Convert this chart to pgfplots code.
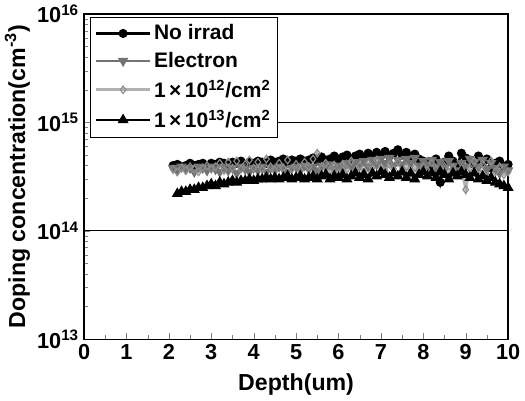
\documentclass[border=0pt]{standalone}
\usepackage{fontspec}
\setmainfont{Liberation Sans}
\usepackage{pgfplots}
\pgfplotsset{compat=1.18}

\begin{document}
\begin{tikzpicture}
\begin{axis}[
    width=10.3cm, height=7.9cm,
    scale only axis,
    ymode=log,
    xmin=0, xmax=10,
    ymin=1e13, ymax=1e16,
    xtick={0,1,...,10},
    minor x tick num=1,
    ytick={1e13,1e14,1e15,1e16},
    yticklabels={10\textsuperscript{13},10\textsuperscript{14},10\textsuperscript{15},10\textsuperscript{16}},
    xtick pos=bottom, ytick pos=left,
    tick align=inside,
    ymajorgrids, major grid style={black, line width=0.6pt},
    axis line style={line width=1pt},
    /pgf/number format/assume math mode=true,
    ticklabel style={font=\fontsize{15}{18}\selectfont\bfseries},
    label style={font=\fontsize{16}{19}\selectfont\bfseries},
    xlabel={Depth(um)},
    ylabel={Doping concentration(cm\textsuperscript{-3})},
    xlabel style={yshift=-3pt},
    ylabel style={yshift=-2pt},
    legend style={at={(0.015,0.99)}, anchor=north west, draw=black,
        font=\fontsize{14.5}{17}\selectfont\bfseries, row sep=3pt,
        inner sep=3pt},
    legend image code/.code={
        \draw[mark repeat=2, mark phase=2, #1]
            plot coordinates {(0cm,0cm) (0.65cm,0cm) (1.3cm,0cm)};},
    legend cell align=left,
]
\addplot[black, line width=1.8pt, mark=*, mark size=2.2pt] coordinates {
(2.1,4.0e14)(2.2,4.1e14)(2.3,3.9e14)(2.4,4.0e14)(2.5,4.2e14)(2.6,4.0e14)(2.7,4.1e14)(2.8,4.2e14)(2.9,4.0e14)(3.0,4.2e14)
(3.1,4.1e14)(3.2,4.3e14)(3.3,4.2e14)(3.4,4.0e14)(3.5,4.3e14)(3.6,4.2e14)(3.7,4.4e14)(3.8,4.1e14)(3.9,4.3e14)(4.0,4.2e14)
(4.1,4.4e14)(4.2,4.3e14)(4.3,4.2e14)(4.4,4.5e14)(4.5,4.3e14)(4.6,4.4e14)(4.7,4.6e14)(4.8,4.3e14)(4.9,4.5e14)(5.0,4.4e14)
(5.1,4.6e14)(5.2,4.4e14)(5.3,4.5e14)(5.4,4.7e14)(5.5,4.4e14)(5.6,4.8e14)(5.7,4.5e14)(5.8,4.6e14)(5.9,4.9e14)(6.0,4.6e14)
(6.1,4.8e14)(6.2,5.0e14)(6.3,4.6e14)(6.4,4.9e14)(6.5,5.1e14)(6.6,4.7e14)(6.7,5.2e14)(6.8,4.8e14)(6.9,5.3e14)(7.0,5.0e14)
(7.1,5.4e14)(7.2,4.9e14)(7.3,5.2e14)(7.4,5.6e14)(7.5,5.0e14)(7.6,5.3e14)(7.7,4.8e14)(7.8,5.1e14)(7.9,4.6e14)(8.0,4.4e14)
(8.1,4.2e14)(8.2,3.9e14)(8.3,4.6e14)(8.4,2.8e14)(8.5,4.3e14)(8.6,4.9e14)(8.7,4.4e14)(8.8,4.0e14)(8.9,5.2e14)(9.0,4.7e14)
(9.1,4.5e14)(9.2,4.1e14)(9.3,4.9e14)(9.4,4.3e14)(9.5,4.6e14)(9.6,3.8e14)(9.7,4.2e14)(9.8,4.4e14)(9.9,3.9e14)(10.0,4.1e14)
};
\addlegendentry{No irrad}
\addplot[black!55, line width=1.8pt, mark=triangle*, mark options={rotate=180, fill=black!55}, mark size=2.4pt] coordinates {
(2.1,3.8e14)(2.2,3.6e14)(2.3,3.9e14)(2.4,3.7e14)(2.5,3.8e14)(2.6,3.5e14)(2.7,3.9e14)(2.8,3.8e14)(2.9,3.6e14)(3.0,3.9e14)
(3.1,3.7e14)(3.2,3.5e14)(3.3,3.9e14)(3.4,3.6e14)(3.5,3.8e14)(3.6,3.4e14)(3.7,3.9e14)(3.8,3.7e14)(3.9,3.5e14)(4.0,3.8e14)
(4.1,3.6e14)(4.2,3.9e14)(4.3,3.5e14)(4.4,3.8e14)(4.5,3.6e14)(4.6,3.9e14)(4.7,3.7e14)(4.8,3.5e14)(4.9,3.8e14)(5.0,3.9e14)
(5.1,3.6e14)(5.2,4.0e14)(5.3,3.7e14)(5.4,3.9e14)(5.5,3.6e14)(5.6,4.0e14)(5.7,3.8e14)(5.8,4.1e14)(5.9,3.7e14)(6.0,4.0e14)
(6.1,3.8e14)(6.2,4.2e14)(6.3,3.9e14)(6.4,4.3e14)(6.5,4.0e14)(6.6,4.4e14)(6.7,3.9e14)(6.8,4.5e14)(6.9,4.1e14)(7.0,4.6e14)
(7.1,4.2e14)(7.2,4.7e14)(7.3,4.0e14)(7.4,4.5e14)(7.5,4.1e14)(7.6,4.6e14)(7.7,4.2e14)(7.8,4.7e14)(7.9,4.0e14)(8.0,4.4e14)
(8.1,4.1e14)(8.2,4.5e14)(8.3,3.9e14)(8.4,4.3e14)(8.5,3.8e14)(8.6,4.4e14)(8.7,4.0e14)(8.8,3.6e14)(8.9,4.2e14)(9.0,3.9e14)
(9.1,4.6e14)(9.2,4.3e14)(9.3,3.9e14)(9.4,4.5e14)(9.5,3.7e14)(9.6,4.2e14)(9.7,3.8e14)(9.8,3.4e14)(9.9,3.9e14)(10.0,3.6e14)
};
\addlegendentry{Electron}
\addplot[black!30, line width=1.8pt, mark=diamond, mark options={fill=white, draw=black!45, line width=0.8pt}, mark size=2.6pt] coordinates {
(2.1,3.7e14)(2.2,3.5e14)(2.3,3.8e14)(2.4,3.6e14)(2.5,3.9e14)(2.6,3.7e14)(2.7,3.5e14)(2.8,3.8e14)(2.9,4.0e14)(3.0,3.7e14)
(3.1,3.9e14)(3.2,4.2e14)(3.3,3.6e14)(3.4,4.3e14)(3.5,3.8e14)(3.6,4.4e14)(3.7,3.7e14)(3.8,4.1e14)(3.9,4.5e14)(4.0,3.8e14)
(4.1,4.3e14)(4.2,3.7e14)(4.3,4.6e14)(4.4,3.9e14)(4.5,3.6e14)(4.6,4.2e14)(4.7,3.8e14)(4.8,4.5e14)(4.9,3.7e14)(5.0,4.1e14)
(5.1,3.6e14)(5.2,4.3e14)(5.3,3.9e14)(5.4,4.6e14)(5.5,5.2e14)(5.6,3.8e14)(5.7,4.2e14)(5.8,3.6e14)(5.9,4.0e14)(6.0,3.5e14)
(6.1,4.1e14)(6.2,3.7e14)(6.3,4.4e14)(6.4,3.6e14)(6.5,4.0e14)(6.6,3.5e14)(6.7,4.2e14)(6.8,3.8e14)(6.9,4.5e14)(7.0,3.9e14)
(7.1,3.6e14)(7.2,4.1e14)(7.3,3.7e14)(7.4,4.3e14)(7.5,3.5e14)(7.6,3.9e14)(7.7,3.4e14)(7.8,3.8e14)(7.9,3.5e14)(8.0,3.9e14)
(8.1,3.6e14)(8.2,4.2e14)(8.3,3.7e14)(8.4,3.4e14)(8.5,3.9e14)(8.6,3.5e14)(8.7,3.8e14)(8.8,3.3e14)(8.9,3.7e14)(9.0,2.4e14)
(9.1,3.8e14)(9.2,4.4e14)(9.3,3.6e14)(9.4,4.1e14)(9.5,3.2e14)(9.6,4.4e14)(9.7,3.5e14)(9.8,3.9e14)(9.9,3.3e14)(10.0,3.5e14)
};
\addlegendentry{1\,×\,10\textsuperscript{12}/cm\textsuperscript{2}}
\addplot[black, line width=1.8pt, mark=triangle*, mark size=2.6pt] coordinates {
(2.2,2.2e14)(2.3,2.3e14)(2.4,2.3e14)(2.5,2.4e14)(2.6,2.4e14)(2.7,2.5e14)(2.8,2.5e14)(2.9,2.6e14)(3.0,2.7e14)
(3.1,2.6e14)(3.2,2.8e14)(3.3,2.7e14)(3.4,2.8e14)(3.5,2.9e14)(3.6,2.8e14)(3.7,2.9e14)(3.8,2.9e14)(3.9,3.0e14)(4.0,2.9e14)
(4.1,3.0e14)(4.2,3.0e14)(4.3,3.1e14)(4.4,3.0e14)(4.5,3.1e14)(4.6,3.0e14)(4.7,3.1e14)(4.8,3.2e14)(4.9,3.0e14)(5.0,3.1e14)
(5.1,3.2e14)(5.2,3.0e14)(5.3,3.1e14)(5.4,3.2e14)(5.5,3.0e14)(5.6,3.2e14)(5.7,3.3e14)(5.8,3.0e14)(5.9,3.2e14)(6.0,3.1e14)
(6.1,3.3e14)(6.2,3.0e14)(6.3,3.2e14)(6.4,3.4e14)(6.5,3.1e14)(6.6,3.3e14)(6.7,3.0e14)(6.8,3.4e14)(6.9,3.2e14)(7.0,3.5e14)
(7.1,3.3e14)(7.2,3.1e14)(7.3,3.4e14)(7.4,3.2e14)(7.5,3.5e14)(7.6,3.1e14)(7.7,3.4e14)(7.8,3.0e14)(7.9,3.3e14)(8.0,3.5e14)
(8.1,3.2e14)(8.2,3.4e14)(8.3,3.1e14)(8.4,3.5e14)(8.5,3.3e14)(8.6,3.0e14)(8.7,3.4e14)(8.8,3.2e14)(8.9,3.5e14)(9.0,3.3e14)
(9.1,3.1e14)(9.2,3.4e14)(9.3,3.0e14)(9.4,3.2e14)(9.5,2.9e14)(9.6,3.1e14)(9.7,2.8e14)(9.8,2.7e14)(9.9,2.6e14)(10.0,2.5e14)
};
\addlegendentry{1\,×\,10\textsuperscript{13}/cm\textsuperscript{2}}
\end{axis}
\end{tikzpicture}
\end{document}
